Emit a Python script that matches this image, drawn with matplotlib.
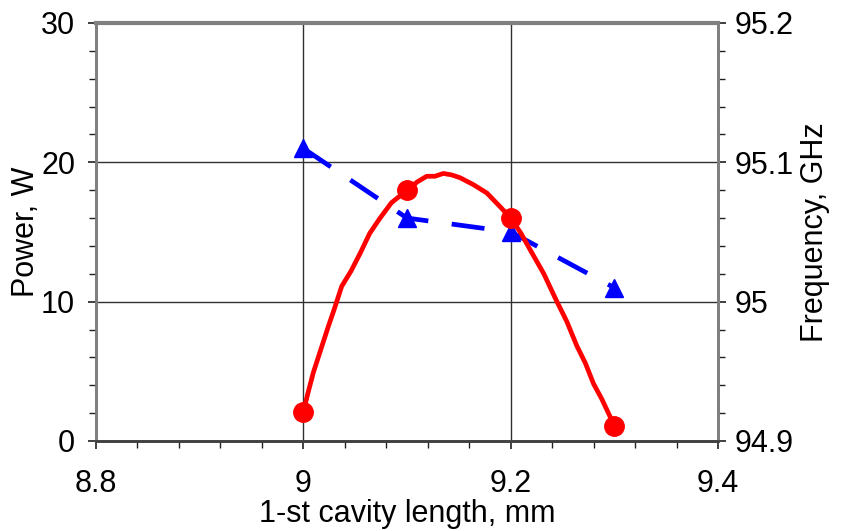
import matplotlib
matplotlib.use("Agg")
import matplotlib.pyplot as plt
from matplotlib.ticker import MultipleLocator, FormatStrFormatter

plt.rcParams['font.family'] = ['Liberation Sans', 'DejaVu Sans']

# measured output power along the tuning curve, W
length_curve = [9.0, 9.005, 9.0096, 9.017, 9.024, 9.03, 9.037, 9.046, 9.055,
                9.064, 9.074, 9.085, 9.1, 9.11, 9.119, 9.127, 9.135, 9.143,
                9.151, 9.164, 9.177, 9.19, 9.2, 9.21, 9.219, 9.232, 9.244,
                9.254, 9.264, 9.272, 9.28, 9.288, 9.3]
power_curve = [2.1, 3.6, 4.9, 6.6, 8.2, 9.5, 11.1, 12.2, 13.5,
               14.9, 16.0, 17.1, 18.0, 18.6, 19.0, 19.0, 19.2, 19.1,
               18.9, 18.4, 17.8, 16.8, 16.0, 14.9, 13.7, 12.0, 10.1,
               8.6, 6.8, 5.6, 4.1, 3.0, 1.1]

# calculated points
length_pts = [9.0, 9.1, 9.2, 9.3]
power_pts = [2.1, 18.0, 16.0, 1.1]
freq_pts = [95.11, 95.06, 95.05, 95.01]

fig = plt.figure(figsize=(8.43, 5.31), dpi=100)
ax = fig.add_axes([0.1139, 0.1695, 0.7378, 0.7872])
ax2 = ax.twinx()

# frequency on the right axis, drawn underneath the power curve
ax2.plot(length_pts, freq_pts, color='#0000ff', lw=3.4, linestyle=(0, (7, 5)),
         marker='^', markersize=13, zorder=3)
ax2.set_ylim(94.9, 95.2)
ax2.yaxis.set_major_locator(MultipleLocator(0.1))
ax2.yaxis.set_minor_locator(MultipleLocator(0.02))
ax2.yaxis.set_major_formatter(FormatStrFormatter('%g'))
ax2.set_ylabel('Frequency, GHz', fontsize=22)
ax2.yaxis.set_label_coords(1.132, 0.5)
ax2.xaxis.set_visible(True)
ax2.tick_params(axis='x', which='both', bottom=False, labelbottom=False)
ax2.grid(True, which='major', color='#303030', lw=1)

ax.plot(length_curve, power_curve, color='#ff0000', lw=3.4, zorder=3)
ax.plot(length_pts, power_pts, color='#ff0000', lw=0, marker='o',
        markersize=14, zorder=4)
ax.set_zorder(ax2.get_zorder() + 1)
ax.patch.set_visible(False)

ax.set_xlim(8.8, 9.4)
ax.set_ylim(0, 30)
ax.xaxis.set_major_locator(MultipleLocator(0.2))
ax.xaxis.set_minor_locator(MultipleLocator(0.04))
ax.xaxis.set_major_formatter(FormatStrFormatter('%g'))
ax.yaxis.set_major_locator(MultipleLocator(10))
ax.yaxis.set_minor_locator(MultipleLocator(2))
ax.set_xlabel('1-st cavity length, mm', fontsize=22, labelpad=0)
ax.set_ylabel('Power, W', fontsize=22)
ax.yaxis.set_label_coords(-0.088, 0.5)

for a in (ax, ax2):
    a.tick_params(axis='both', which='major', labelsize=22, length=6,
                  width=1.2, color='#202020')
    a.tick_params(axis='both', which='minor', length=5, width=1,
                  color='#202020')
    for s in a.spines.values():
        s.set_color('#808080')
        s.set_linewidth(2)
ax.tick_params(axis='y', which='both', direction='out', pad=9)
ax2.tick_params(axis='y', which='both', direction='out', pad=6)
ax.tick_params(axis='x', which='both', direction='out', pad=14)
ax.spines['bottom'].set_color('#404040')
ax.spines['top'].set_linewidth(3)

fig.savefig('out.png', dpi=100)
